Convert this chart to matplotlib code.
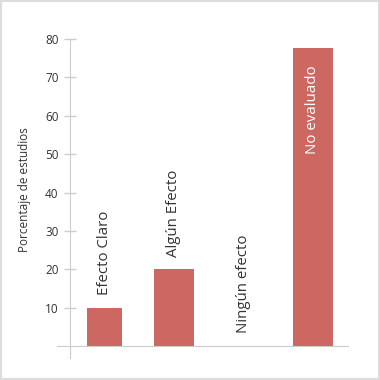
import matplotlib.pyplot as plt
from matplotlib.patches import Rectangle

categorias = ["Efecto Claro", "Algún Efecto", "Ningún efecto", "No evaluado"]
porcentajes = [10, 20, 0, 77.6]
y_ticks = [10, 20, 30, 40, 50, 60, 70, 80]

plt.rcParams['font.family'] = ['Open Sans', 'DejaVu Sans']

color_barra = '#cd6761'
gris = '#cccccc'
texto = '#333333'

fig = plt.figure(figsize=(3.8, 3.8), dpi=100)
ax = fig.add_axes([57 / 380, 22 / 380, 291 / 380, 319 / 380])

x = list(range(len(categorias)))
anchos = [0.51, 0.57, 0.57, 0.57]  # la primera barra sale un poco mas angosta
ax.bar(x, porcentajes, width=anchos, color=color_barra, zorder=2)

# etiquetas de cada barra, encima o dentro si no cabe
for i, (nombre, v) in enumerate(zip(categorias, porcentajes)):
    if v > 60:
        ax.text(i, v - 4.4, nombre, rotation=90, ha='center', va='top',
                color='white', fontsize=10.8)
    else:
        ax.text(i, v + 3.3, nombre, rotation=90, ha='center', va='bottom',
                color=texto, fontsize=10.8)

ax.set_xlim(-0.683, 3.504)
ax.set_ylim(-3.1, 80)

for s in ['top', 'right']:
    ax.spines[s].set_visible(False)
ax.spines['left'].set_position(('data', -0.5))
ax.spines['left'].set_bounds(-3.1, 80)
ax.spines['left'].set_color(gris)
ax.spines['bottom'].set_position(('data', 0))
ax.spines['bottom'].set_color(gris)

ax.set_xticks([])
ax.set_yticks(y_ticks)
ax.tick_params(axis='y', direction='inout', length=8, width=1, color=gris,
               labelcolor=texto, labelsize=8.5, pad=4)

fig.text(25 / 380, 1 - 190 / 380, "Porcentaje de estudios", rotation=90,
         ha='center', va='center', color=texto, fontsize=8.5)

# marco gris alrededor
fig.patches.append(Rectangle((0, 0), 1, 1, transform=fig.transFigure,
                             fill=False, edgecolor='#dddddd', linewidth=3))

fig.savefig('out.png', dpi=100)
